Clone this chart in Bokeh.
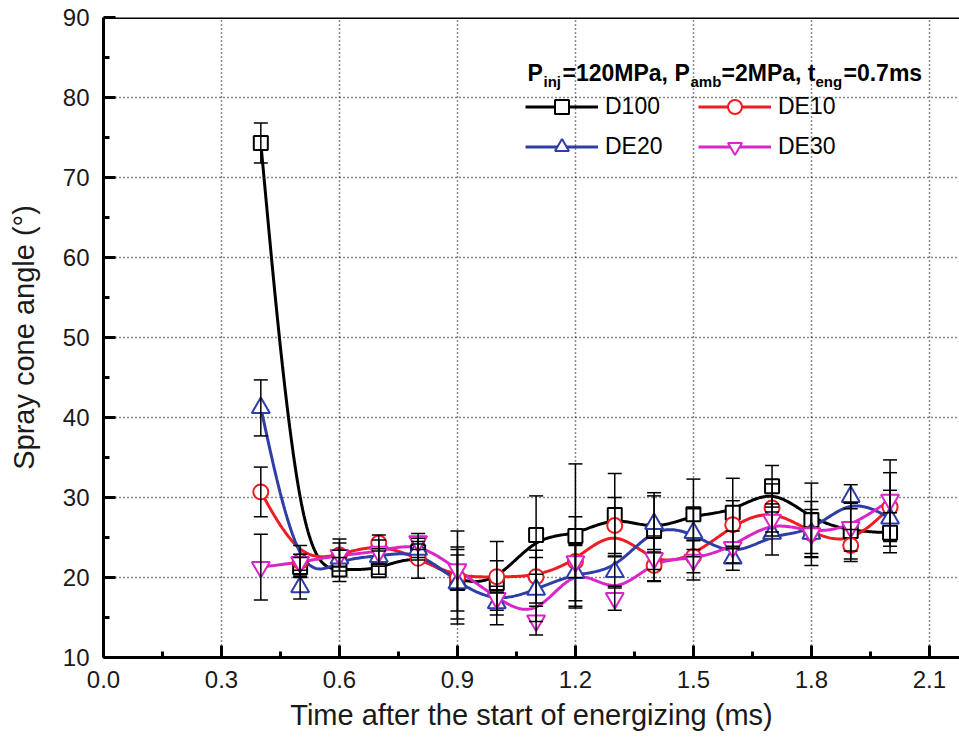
import numpy as np
from bokeh.plotting import figure
from bokeh.models import (ColumnDataSource, Whisker, TeeHead, FixedTicker, PrintfTickFormatter,
                          Range1d, Span, Label, Legend, LegendItem)
from bokeh.embed import file_html
from bokeh.resources import INLINE

# ---------------- data ----------------
time_ms = [0.4, 0.5, 0.6, 0.7, 0.8, 0.9, 1.0, 1.1, 1.2, 1.3, 1.4, 1.5, 1.6, 1.7, 1.8, 1.9, 2.0]

d100 = [74.3, 21.3, 21.0, 20.9, 23.2, 19.3, 19.3, 25.3, 25.2, 27.8, 25.8, 27.9, 28.1, 31.4, 27.2, 25.8, 25.6]
d100_err = [2.5, 1.2, 1.5, 0.5, 1.0, 4.5, 5.2, 4.9, 9.0, 5.2, 4.8, 4.4, 4.3, 2.6, 4.6, 3.5, 2.5]

de10 = [30.7, 22.0, 22.8, 24.3, 22.4, 20.0, 20.1, 20.1, 22.0, 26.5, 21.5, 22.6, 26.6, 28.7, 25.5, 24.0, 28.8]
de10_err = [3.1, 2.0, 1.5, 1.0, 2.5, 5.8, 2.0, 3.3, 2.0, 3.5, 2.0, 2.0, 3.0, 3.0, 2.5, 2.0, 4.3]

de20 = [41.2, 18.8, 22.4, 22.6, 23.5, 19.3, 16.8, 18.5, 20.6, 20.7, 26.7, 25.6, 22.4, 25.5, 25.5, 30.1, 27.4]
de20_err = [3.5, 1.5, 1.0, 1.0, 1.0, 3.5, 1.5, 4.0, 3.5, 2.0, 3.5, 3.0, 1.5, 2.7, 4.0, 1.5, 3.5]

de30 = [21.3, 21.9, 22.8, 23.2, 24.5, 21.0, 17.4, 14.6, 22.0, 17.4, 22.4, 22.2, 23.8, 27.2, 25.5, 26.3, 29.7]
de30_err = [4.1, 1.0, 2.0, 1.5, 1.0, 2.5, 1.5, 1.8, 5.6, 1.5, 2.8, 2.5, 2.0, 2.0, 3.0, 3.0, 5.0]

series_names = ["D100", "DE10", "DE20", "DE30"]
series_values = [d100, de10, de20, de30]
series_errors = [d100_err, de10_err, de20_err, de30_err]
series_colors = ["#000000", "#ee1d24", "#2e3ea6", "#d926c8"]
series_markers = ["square", "circle", "triangle", "inverted_triangle"]
series_marker_sizes = [14, 15, 18, 18]

x_ticks = [0.0, 0.3, 0.6, 0.9, 1.2, 1.5, 1.8, 2.1]
x_minor = [0.15, 0.45, 0.75, 1.05, 1.35, 1.65, 1.95]
y_ticks = [10, 20, 30, 40, 50, 60, 70, 80, 90]
y_minor = [15, 25, 35, 45, 55, 65, 75, 85]

FONT = "Liberation Sans"


def bspline(xs, ys, n=30):
    """Uniform cubic B-spline through clamped end points (Origin-style smoothing)."""
    P = np.column_stack([xs, ys]).astype(float)
    Q = np.vstack([P[0], P[0], P, P[-1], P[-1]])
    t = np.linspace(0, 1, n, endpoint=False)
    b0 = (1 - t) ** 3 / 6
    b1 = (3 * t ** 3 - 6 * t ** 2 + 4) / 6
    b2 = (-3 * t ** 3 + 3 * t ** 2 + 3 * t + 1) / 6
    b3 = t ** 3 / 6
    segs = []
    for i in range(len(Q) - 3):
        segs.append(np.outer(b0, Q[i]) + np.outer(b1, Q[i + 1]) +
                    np.outer(b2, Q[i + 2]) + np.outer(b3, Q[i + 3]))
    segs.append(P[-1][None, :])
    c = np.vstack(segs)
    return c[:, 0], c[:, 1]


# ---------------- figure ----------------
p = figure(width=959, height=748, x_range=Range1d(0, 2.1766), y_range=Range1d(10, 90),
           output_backend="svg", toolbar_location=None,
           min_border_left=103, min_border_right=0, min_border_top=17, min_border_bottom=91)
p.outline_line_color = None
p.background_fill_color = "white"
p.border_fill_color = "white"

xt = FixedTicker(ticks=x_ticks, minor_ticks=x_minor)
yt = FixedTicker(ticks=y_ticks, minor_ticks=y_minor)
p.xaxis.ticker = xt
p.yaxis.ticker = yt
p.xgrid.ticker = xt
p.ygrid.ticker = yt
p.xaxis.formatter = PrintfTickFormatter(format="%.1f")

for ax in (p.xaxis[0], p.yaxis[0]):
    ax.axis_line_width = 3
    ax.axis_line_color = "black"
    ax.major_tick_in = 12
    ax.major_tick_out = 0
    ax.minor_tick_in = 6
    ax.minor_tick_out = 0
    ax.major_tick_line_width = 3
    ax.minor_tick_line_width = 3
    ax.major_tick_line_color = "black"
    ax.minor_tick_line_color = "black"
    ax.major_label_text_font = FONT
    ax.major_label_text_font_size = "24px"
    ax.major_label_text_color = "#1a1a1a"
    ax.axis_label_text_font = FONT
    ax.axis_label_text_font_size = "29px"
    ax.axis_label_text_font_style = "normal"
    ax.axis_label_text_color = "#1a1a1a"

p.xaxis.axis_label = "Time after the start of energizing (ms)"
p.yaxis.axis_label = "Spray cone angle (°)"
p.xaxis.major_label_standoff = 13
p.yaxis.major_label_standoff = 14
p.xaxis.axis_label_standoff = 8
p.yaxis.axis_label_standoff = 20

p.grid.grid_line_color = "black"
p.grid.grid_line_dash = "1 3"
p.grid.grid_line_width = 1.5
p.grid.grid_line_alpha = 0.9

p.add_layout(Span(location=90, dimension="width", line_color="black", line_width=3))

# lines
line_renderers = []
for vals, col in zip(series_values, series_colors):
    sx, sy = bspline(time_ms, vals)
    line_renderers.append(p.line(sx, sy, line_color=col, line_width=3))

# error bars
for vals, errs in zip(series_values, series_errors):
    v = np.array(vals)
    e = np.array(errs)
    src = ColumnDataSource(dict(base=time_ms, upper=v + e, lower=v - e))
    w = Whisker(base="base", upper="upper", lower="lower", source=src, dimension="height",
                line_color="black", line_width=1.5,
                upper_head=TeeHead(size=14, line_width=1.5, line_color="black"),
                lower_head=TeeHead(size=14, line_width=1.5, line_color="black"),
                level="glyph")
    p.add_layout(w)

# markers
marker_renderers = []
for vals, col, mk, ms in zip(series_values, series_colors, series_markers, series_marker_sizes):
    src = ColumnDataSource(dict(x=time_ms, y=vals))
    marker_renderers.append(p.scatter("x", "y", source=src, marker=mk, size=ms,
                                      fill_color="white", line_color=col, line_width=2))

items = [LegendItem(label=n, renderers=[l, m])
         for n, l, m in zip(series_names, line_renderers, marker_renderers)]
legend = Legend(items=items, orientation="horizontal", ncols=2,
                location=(422, 492.8), glyph_width=73, glyph_height=35,
                label_standoff=7, label_width=88, spacing=5, padding=0, margin=0,
                label_text_font=FONT, label_text_font_size="23px", label_text_color="black",
                background_fill_alpha=0, border_line_color=None)
p.add_layout(legend)

# legend header with subscripts
FRAME_L, FRAME_B = 103, 657
header = [
    ("P", 527, 72, "23px"), ("inj", 543, 81, "15px"),
    ("=120MPa, P", 562, 72, "23px"), ("amb", 690, 81, "15px"),
    ("=2MPa, t", 721, 72, "23px"), ("eng", 815, 81, "15px"),
    ("=0.7ms", 843, 72, "23px"),
]
for txt, px, py, fs in header:
    p.add_layout(Label(x=px - FRAME_L, y=FRAME_B - py, x_units="screen", y_units="screen",
                       text=txt, text_font=FONT, text_font_style="bold", text_font_size=fs,
                       text_baseline="alphabetic", text_align="left", text_color="black"))

open("out.html", "w").write(file_html(p, INLINE))
